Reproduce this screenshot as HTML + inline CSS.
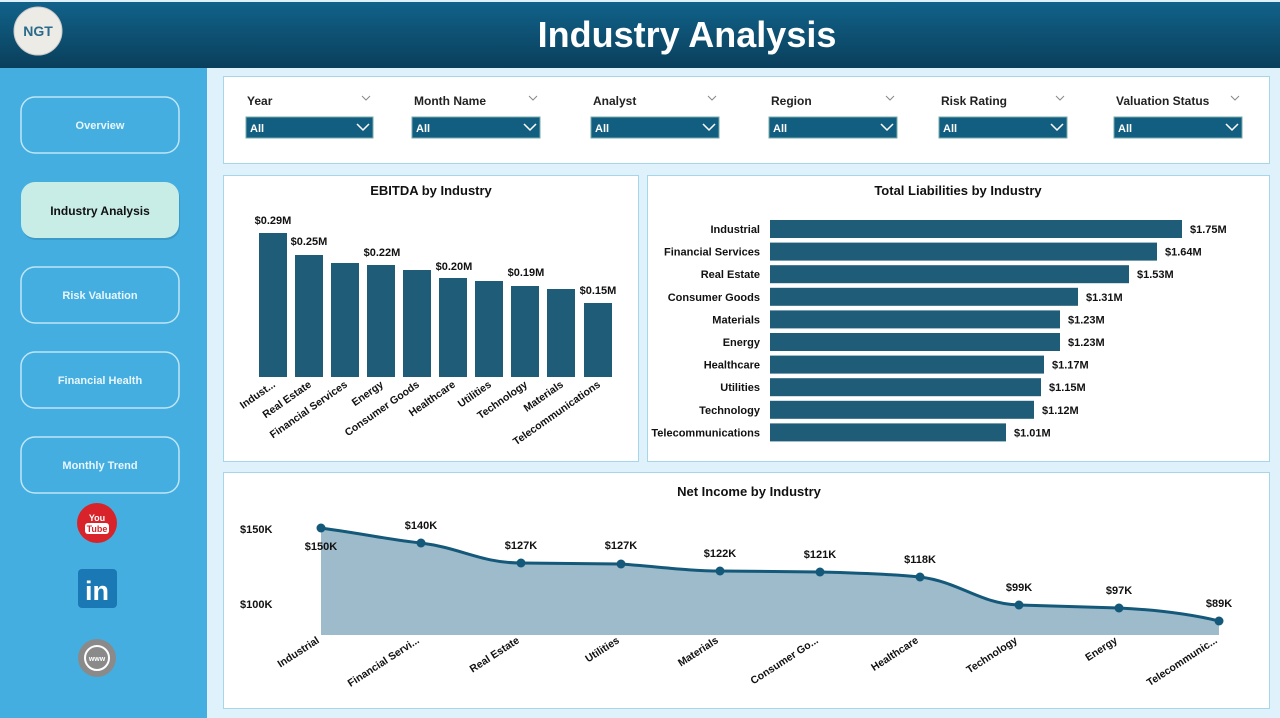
<!DOCTYPE html>
<html><head><meta charset="utf-8"><style>
body{margin:0;width:1280px;height:718px;overflow:hidden;background:#dff1fa;font-family:"Liberation Sans",sans-serif}
</style></head><body>
<svg width="1280" height="718" xmlns="http://www.w3.org/2000/svg" style="position:absolute;left:0;top:0" font-family="Liberation Sans, sans-serif">
<defs>
<linearGradient id="hd" x1="0" y1="0" x2="0" y2="1"><stop offset="0" stop-color="#11628a"/><stop offset="1" stop-color="#0a3f5b"/></linearGradient>
</defs>
<rect x="0" y="0" width="1280" height="718" fill="#dff1fa"/>
<rect x="0" y="2" width="1280" height="66" fill="url(#hd)"/>
<text x="687" y="47" text-anchor="middle" font-size="36" font-weight="bold" fill="#fff">Industry Analysis</text>
<circle cx="38" cy="31" r="24" fill="#ecebe6" stroke="#c9c9c9"/>
<text x="38" y="36" text-anchor="middle" font-size="14" font-weight="bold" fill="#2b6a8a">NGT</text>
<rect x="0" y="68" width="207" height="650" fill="#45aee0"/>
<g font-size="11" font-weight="bold" fill="#e8f6fc" text-anchor="middle">
<rect x="21" y="97" width="158" height="56" rx="14" fill="#45aee0" stroke="#bfe6f7" stroke-width="1.5"/>
<text x="100" y="129">Overview</text>
<rect x="21" y="267" width="158" height="56" rx="14" fill="#45aee0" stroke="#bfe6f7" stroke-width="1.5"/>
<text x="100" y="299">Risk Valuation</text>
<rect x="21" y="352" width="158" height="56" rx="14" fill="#45aee0" stroke="#bfe6f7" stroke-width="1.5"/>
<text x="100" y="384">Financial Health</text>
<rect x="21" y="437" width="158" height="56" rx="14" fill="#45aee0" stroke="#bfe6f7" stroke-width="1.5"/>
<text x="100" y="469">Monthly Trend</text>
</g>
<rect x="22" y="184" width="158" height="56" rx="14" fill="#2f86b0" opacity="0.5"/>
<rect x="21" y="182" width="158" height="56" rx="14" fill="#c8ece6"/>
<text x="100" y="215" text-anchor="middle" font-size="12" font-weight="bold" fill="#111">Industry Analysis</text>
<circle cx="97" cy="523" r="20" fill="#d8232a"/>
<text x="97" y="521" text-anchor="middle" font-size="9" font-weight="bold" fill="#fff">You</text>
<rect x="85" y="523" width="24" height="11" rx="3" fill="#fff"/>
<text x="97" y="532" text-anchor="middle" font-size="9" font-weight="bold" fill="#d8232a">Tube</text>
<rect x="78" y="569" width="39" height="39" rx="4" fill="#1a78b4"/>
<text x="97" y="600" text-anchor="middle" font-size="27" font-weight="bold" fill="#fff">in</text>
<circle cx="97" cy="658" r="19" fill="#8a8a8a"/>
<circle cx="97" cy="658" r="12" fill="none" stroke="#fff" stroke-width="2"/>
<text x="97" y="661" text-anchor="middle" font-size="7" font-weight="bold" fill="#fff">www</text>
<!-- panels -->
<g fill="#fff" stroke="#a6d6ea">
<rect x="223.5" y="76.5" width="1046" height="87"/>
<rect x="223.5" y="175.5" width="415" height="286"/>
<rect x="647.5" y="175.5" width="622" height="286"/>
<rect x="223.5" y="472.5" width="1046" height="236"/>
</g>
<!-- filters -->
<g font-size="12" font-weight="bold" fill="#222">
<text x="247" y="105">Year</text><text x="414" y="105">Month Name</text><text x="593" y="105">Analyst</text>
<text x="771" y="105">Region</text><text x="941" y="105">Risk Rating</text><text x="1116" y="105">Valuation Status</text>
</g>
<g fill="none" stroke="#888" stroke-width="1">
<path d="M362 96l4 4 4-4"/><path d="M529 96l4 4 4-4"/><path d="M708 96l4 4 4-4"/><path d="M886 96l4 4 4-4"/><path d="M1056 96l4 4 4-4"/><path d="M1231 96l4 4 4-4"/>
</g>
<g>
<rect x="246" y="117" width="127" height="21" fill="#115e80" stroke="#7aa" />
<rect x="412" y="117" width="128" height="21" fill="#115e80" stroke="#7aa" />
<rect x="591" y="117" width="128" height="21" fill="#115e80" stroke="#7aa" />
<rect x="769" y="117" width="128" height="21" fill="#115e80" stroke="#7aa" />
<rect x="939" y="117" width="128" height="21" fill="#115e80" stroke="#7aa" />
<rect x="1114" y="117" width="128" height="21" fill="#115e80" stroke="#7aa" />
</g>
<g font-size="11" font-weight="bold" fill="#fff">
<text x="250" y="132">All</text><text x="416" y="132">All</text><text x="595" y="132">All</text><text x="773" y="132">All</text><text x="943" y="132">All</text><text x="1118" y="132">All</text>
</g>
<g fill="none" stroke="#fff" stroke-width="1.5">
<path d="M357 124l6 6 6-6"/><path d="M524 124l6 6 6-6"/><path d="M703 124l6 6 6-6"/><path d="M881 124l6 6 6-6"/><path d="M1051 124l6 6 6-6"/><path d="M1226 124l6 6 6-6"/>
</g>
<!-- EBITDA -->
<text x="431" y="195" text-anchor="middle" font-size="13" font-weight="bold" fill="#111">EBITDA by Industry</text>
<g fill="#1f5c78">
<rect x="259" y="233" width="28" height="144"/><rect x="295" y="255" width="28" height="122"/><rect x="331" y="263" width="28" height="114"/><rect x="367" y="265" width="28" height="112"/><rect x="403" y="270" width="28" height="107"/><rect x="439" y="278" width="28" height="99"/><rect x="475" y="281" width="28" height="96"/><rect x="511" y="286" width="28" height="91"/><rect x="547" y="289" width="28" height="88"/><rect x="584" y="303" width="28" height="74"/>
</g>
<g font-size="11" font-weight="bold" fill="#111" text-anchor="middle">
<text x="273" y="224">$0.29M</text><text x="309" y="245">$0.25M</text><text x="382" y="256">$0.22M</text><text x="454" y="270">$0.20M</text><text x="526" y="276">$0.19M</text><text x="598" y="294">$0.15M</text>
</g>
<g font-size="10.5" font-weight="bold" fill="#111" text-anchor="end">
<text transform="translate(276,386) rotate(-35)">Indust...</text>
<text transform="translate(312,386) rotate(-35)">Real Estate</text>
<text transform="translate(348,386) rotate(-35)">Financial Services</text>
<text transform="translate(384,386) rotate(-35)">Energy</text>
<text transform="translate(420,386) rotate(-35)">Consumer Goods</text>
<text transform="translate(456,386) rotate(-35)">Healthcare</text>
<text transform="translate(492,386) rotate(-35)">Utilities</text>
<text transform="translate(528,386) rotate(-35)">Technology</text>
<text transform="translate(564,386) rotate(-35)">Materials</text>
<text transform="translate(601,386) rotate(-35)">Telecommunications</text>
</g>
<!-- Liabilities -->
<text x="958" y="195" text-anchor="middle" font-size="13" font-weight="bold" fill="#111">Total Liabilities by Industry</text>
<g fill="#1f5c78">
<rect x="770" y="220" width="412" height="18"/><rect x="770" y="242.6" width="387" height="18"/><rect x="770" y="265.2" width="359" height="18"/><rect x="770" y="287.8" width="308" height="18"/><rect x="770" y="310.4" width="290" height="18"/><rect x="770" y="333" width="290" height="18"/><rect x="770" y="355.6" width="274" height="18"/><rect x="770" y="378.2" width="271" height="18"/><rect x="770" y="400.8" width="264" height="18"/><rect x="770" y="423.4" width="236" height="18"/>
</g>
<g font-size="11" font-weight="bold" fill="#111" text-anchor="end">
<text x="760" y="233">Industrial</text><text x="760" y="255.6">Financial Services</text><text x="760" y="278.2">Real Estate</text><text x="760" y="300.8">Consumer Goods</text><text x="760" y="323.4">Materials</text><text x="760" y="346">Energy</text><text x="760" y="368.6">Healthcare</text><text x="760" y="391.2">Utilities</text><text x="760" y="413.8">Technology</text><text x="760" y="436.4">Telecommunications</text>
</g>
<g font-size="11" font-weight="bold" fill="#111">
<text x="1190" y="233">$1.75M</text><text x="1165" y="255.6">$1.64M</text><text x="1137" y="278.2">$1.53M</text><text x="1086" y="300.8">$1.31M</text><text x="1068" y="323.4">$1.23M</text><text x="1068" y="346">$1.23M</text><text x="1052" y="368.6">$1.17M</text><text x="1049" y="391.2">$1.15M</text><text x="1042" y="413.8">$1.12M</text><text x="1014" y="436.4">$1.01M</text>
</g>
<!-- Net income -->
<text x="749" y="496" text-anchor="middle" font-size="13" font-weight="bold" fill="#111">Net Income by Industry</text>
<g font-size="11" font-weight="bold" fill="#111">
<text x="240" y="533">$150K</text><text x="240" y="608">$100K</text>
</g>
<path d="M321 528 C371 535 391 540 421 543 C461 548 481 563 521 563 L621 564 C661 567 690 571 720 571 L820 572 C860 573 890 574 920 577 C960 582 980 604 1019 605 L1119 608 C1160 610 1190 614 1219 621 L1219 635 L321 635 Z" fill="#9dbbca"/>
<path d="M321 528 C371 535 391 540 421 543 C461 548 481 563 521 563 L621 564 C661 567 690 571 720 571 L820 572 C860 573 890 574 920 577 C960 582 980 604 1019 605 L1119 608 C1160 610 1190 614 1219 621" fill="none" stroke="#14587a" stroke-width="3"/>
<g fill="#14587a">
<circle cx="321" cy="528" r="4.5"/><circle cx="421" cy="543" r="4.5"/><circle cx="521" cy="563" r="4.5"/><circle cx="621" cy="564" r="4.5"/><circle cx="720" cy="571" r="4.5"/><circle cx="820" cy="572" r="4.5"/><circle cx="920" cy="577" r="4.5"/><circle cx="1019" cy="605" r="4.5"/><circle cx="1119" cy="608" r="4.5"/><circle cx="1219" cy="621" r="4.5"/>
</g>
<g font-size="11" font-weight="bold" fill="#111" text-anchor="middle">
<text x="321" y="550">$150K</text><text x="421" y="529">$140K</text><text x="521" y="549">$127K</text><text x="621" y="549">$127K</text><text x="720" y="557">$122K</text><text x="820" y="558">$121K</text><text x="920" y="563">$118K</text><text x="1019" y="591">$99K</text><text x="1119" y="594">$97K</text><text x="1219" y="607">$89K</text>
</g>
<g font-size="10.5" font-weight="bold" fill="#111" text-anchor="end">
<text transform="translate(320,642) rotate(-33)">Industrial</text>
<text transform="translate(420,642) rotate(-33)">Financial Servi...</text>
<text transform="translate(520,642) rotate(-33)">Real Estate</text>
<text transform="translate(620,642) rotate(-33)">Utilities</text>
<text transform="translate(719,642) rotate(-33)">Materials</text>
<text transform="translate(819,642) rotate(-33)">Consumer Go...</text>
<text transform="translate(919,642) rotate(-33)">Healthcare</text>
<text transform="translate(1018,642) rotate(-33)">Technology</text>
<text transform="translate(1118,642) rotate(-33)">Energy</text>
<text transform="translate(1218,642) rotate(-33)">Telecommunic...</text>
</g>
</svg>
</body></html>
